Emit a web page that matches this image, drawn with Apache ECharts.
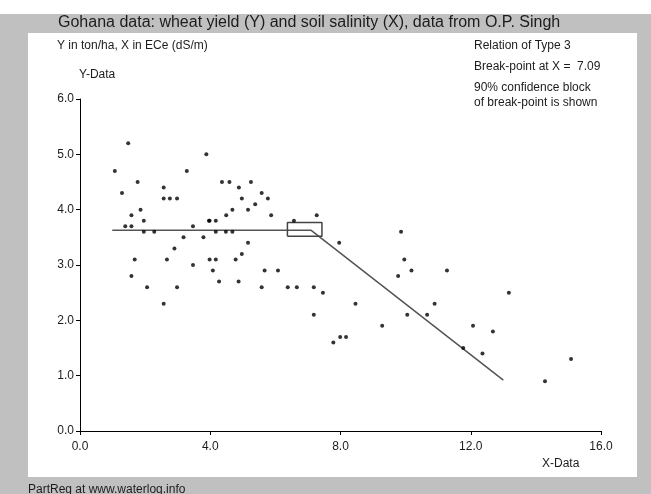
<!DOCTYPE html>
<html>
<head>
<meta charset="utf-8">
<script src="https://cdn.jsdelivr.net/npm/echarts@6/dist/echarts.min.js"></script>
<style>
  html, body { margin: 0; padding: 0; }
  #main { width: 651px; height: 494px; }
</style>
</head>
<body>
<div id="main"></div>
<script>
// observed points: salinity (ECe, dS/m) and wheat yield (ton/ha)
const xData = [
	1.48, 3.88, 1.07, 3.28, 1.77, 2.57, 1.29, 2.57, 2.76, 2.98,
	1.86, 1.58, 1.96, 3.96, 1.39, 1.58, 3.47, 1.96, 2.28, 3.18,
	3.79, 2.90, 1.68, 2.67, 3.98, 3.47, 1.58, 2.06, 2.98, 2.57,
	4.36, 4.59, 5.25, 4.88, 5.58, 4.97, 5.77, 5.38, 4.68, 5.16,
	4.49, 5.87, 7.27, 3.98, 4.17, 6.57, 4.17, 4.48, 4.68, 5.16,
	4.97, 4.17, 4.78, 4.08, 5.67, 6.08, 4.27, 4.87, 5.58, 6.38,
	6.66, 7.18, 7.46, 7.18, 7.96, 9.86, 9.96, 10.18, 11.27, 9.77,
	13.17, 8.46, 10.89, 10.05, 10.66, 9.28, 12.07, 12.68, 7.99, 8.17,
	7.78, 11.77, 12.36, 15.08, 14.28
];
const yData = [
	5.2, 5.0, 4.7, 4.7, 4.5, 4.4, 4.3, 4.2, 4.2, 4.2,
	4.0, 3.9, 3.8, 3.8, 3.7, 3.7, 3.7, 3.6, 3.6, 3.5,
	3.5, 3.3, 3.1, 3.1, 3.1, 3.0, 2.8, 2.6, 2.6, 2.3,
	4.5, 4.5, 4.5, 4.4, 4.3, 4.2, 4.2, 4.1, 4.0, 4.0,
	3.9, 3.9, 3.9, 3.8, 3.8, 3.8, 3.6, 3.6, 3.6, 3.4,
	3.2, 3.1, 3.1, 2.9, 2.9, 2.9, 2.7, 2.7, 2.6, 2.6,
	2.6, 2.6, 2.5, 2.1, 3.4, 3.6, 3.1, 2.9, 2.9, 2.8,
	2.5, 2.3, 2.3, 2.1, 2.1, 1.9, 1.9, 1.8, 1.7, 1.7,
	1.6, 1.5, 1.4, 1.3, 0.9
];

// fitted segmented relation (type 3): horizontal, then declining
const fitX = [0.99, 7.09, 13.0];
const fitY = [3.63, 3.63, 0.92];

// 90% confidence block of the break-point
const blockX = [6.37, 7.43, 7.43, 6.37, 6.37];
const blockY = [3.52, 3.52, 3.77, 3.77, 3.52];

const xTicks = [0, 4, 8, 12, 16];
const yTicks = [0, 1, 2, 3, 4, 5, 6];

const FONT = "Liberation Sans, Arial, sans-serif";
const TXT = "#1c1c1c";

const chart = echarts.init(document.getElementById("main"), null, { renderer: "canvas" });

function label(text, left, top, size) {
	return {
		type: "text",
		left: left,
		top: top,
		z: 5,
		style: { text: text, font: (size || 12) + "px " + FONT, fill: TXT },
	};
}

const option = {
	backgroundColor: "#c0c0c0",
	animation: false,
	graphic: [
		{ type: "rect", left: 0, top: 0, z: -10, shape: { width: 651, height: 14 }, style: { fill: "#ffffff" } },
		{ type: "rect", left: 28, top: 33, z: -10, shape: { width: 609, height: 444 }, style: { fill: "#ffffff" } },
		label("Gohana data: wheat yield (Y) and soil salinity (X), data from O.P. Singh", 58, 15, 16),
		label("Y in ton/ha, X in ECe (dS/m)", 57, 40),
		label("Relation of Type 3", 474, 40),
		label("Break-point at X =  7.09", 474, 61),
		label("90% confidence block", 474, 82),
		label("of break-point is shown", 474, 97),
		label("Y-Data", 79, 69),
		label("X-Data", 542, 458),
		label("PartReg at www.waterlog.info", 28, 484),
	],
	grid: { left: 80, top: 99, right: 50, bottom: 63 },
	xAxis: {
		type: "value",
		min: xTicks[0],
		max: xTicks[xTicks.length - 1],
		interval: 4,
		axisLine: { lineStyle: { color: "#000", width: 1 } },
		axisTick: { length: 4, lineStyle: { color: "#000" } },
		axisLabel: { margin: 10, color: TXT, fontFamily: FONT, fontSize: 12, formatter: (v) => v.toFixed(1) },
		splitLine: { show: false },
	},
	yAxis: {
		type: "value",
		min: yTicks[0],
		max: yTicks[yTicks.length - 1],
		interval: 1,
		axisLine: { show: true, lineStyle: { color: "#000", width: 1 } },
		axisTick: { show: true, length: 4, lineStyle: { color: "#000" } },
		axisLabel: { margin: 6, color: TXT, fontFamily: FONT, fontSize: 12, formatter: (v) => v.toFixed(1) },
		splitLine: { show: false },
	},
	series: [
		{
			name: "fit",
			type: "line",
			data: fitX.map((x, i) => [x, fitY[i]]),
			symbol: "none",
			lineStyle: { color: "#555", width: 1.5 },
			z: 2,
		},
		{
			name: "block",
			type: "line",
			data: blockX.map((x, i) => [x, blockY[i]]),
			symbol: "none",
			lineStyle: { color: "#444", width: 1.5 },
			z: 3,
		},
		{
			name: "data",
			type: "scatter",
			data: xData.map((x, i) => [x, yData[i]]),
			symbol: "circle",
			symbolSize: 4,
			itemStyle: { color: "#000" },
			z: 4,
		},
	],
};

chart.setOption(option);
</script>
</body>
</html>
